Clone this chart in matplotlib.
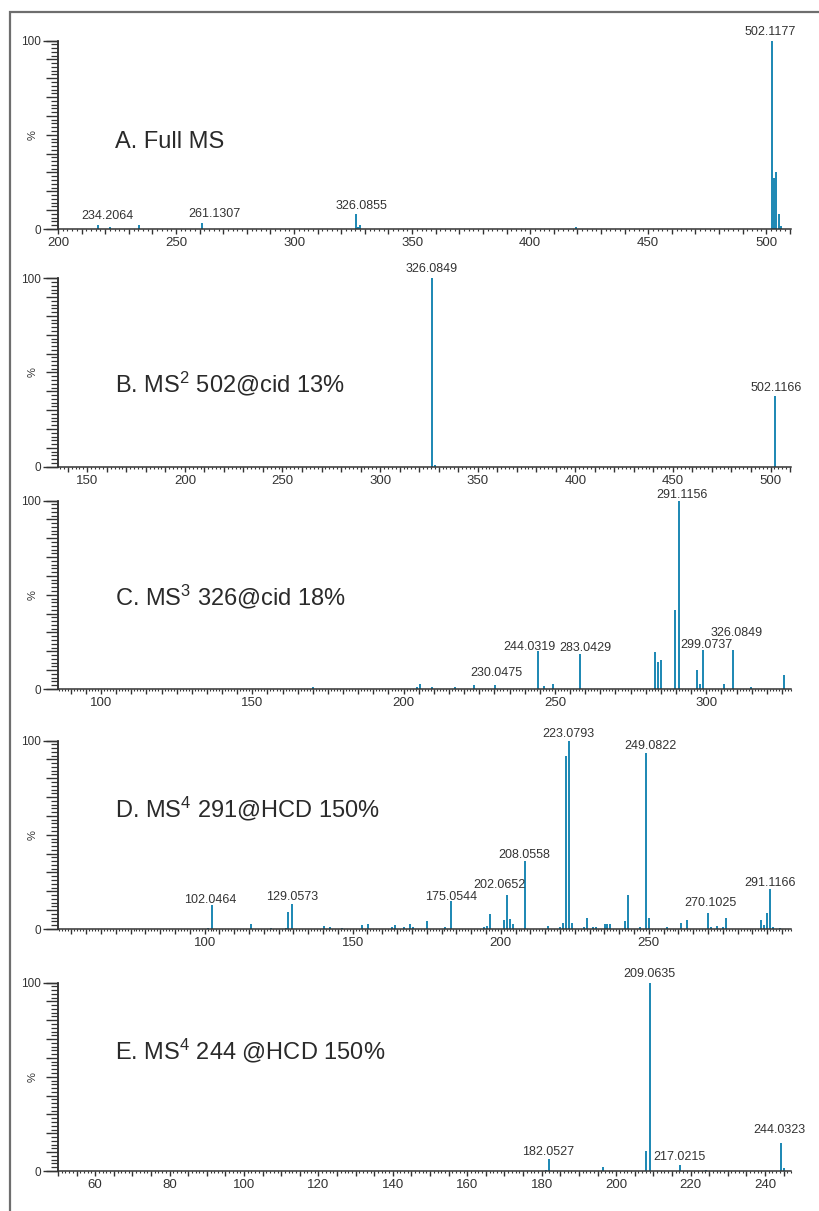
import matplotlib
matplotlib.use('Agg')
import matplotlib.pyplot as plt
from matplotlib.ticker import MultipleLocator, FuncFormatter, NullFormatter
from matplotlib.patches import Rectangle
from matplotlib.transforms import blended_transform_factory

plt.rcParams['font.family'] = ['Liberation Sans', 'DejaVu Sans']
plt.rcParams['mathtext.fontset'] = 'custom'
plt.rcParams['mathtext.rm'] = 'Liberation Sans'
plt.rcParams['mathtext.it'] = 'Liberation Sans:italic'
plt.rcParams['mathtext.bf'] = 'Liberation Sans:bold'

# ---------------- data ----------------
titles = ["A. Full MS",
          "B. MS$^2$ 502@cid 13%",
          "C. MS$^3$ 326@cid 18%",
          "D. MS$^4$ 291@HCD 150%",
          "E. MS$^4$ 244 @HCD 150%"]

mz_a = [217.1, 222.0, 234.2, 261.1, 326.1, 327.0, 328.0, 419.5, 502.4, 503.4, 504.2, 505.4, 506.2]
int_a = [2.1, 1.0, 2.3, 3.2, 7.8, 1.0, 2.1, 1.0, 100, 27, 30, 8, 1.6]
lab_a = ["234.2064", "261.1307", "326.0855", "502.1177"]
labx_a = [221.0, 266.1, 328.7, 501.7]
laby_a = [5.2, 6.2, 10.5, 103.0]

mz_b = [326.5, 328.0, 502.1]
int_b = [100, 1.0, 37.4]
lab_b = ["326.0849", "502.1166"]
labx_b = [326.5, 503.0]
laby_b = [103.2, 40.2]

mz_c = [170.0, 204.3, 205.4, 209.3, 217.1, 223.2, 230.3, 244.4, 246.5, 249.4, 258.3,
        282.9, 283.9, 285.0, 289.7, 291.0, 296.9, 298.0, 298.9, 305.8, 308.8, 314.7, 325.7]
int_c = [0.8, 1.0, 2.6, 1.0, 1.2, 2.1, 2.3, 20, 1.5, 2.6, 18.7,
         19.6, 14.5, 15.3, 42, 100, 10, 2.6, 20.8, 2.6, 20.8, 1.0, 7.4]
lab_c = ["230.0475", "244.0319", "283.0429", "291.1156", "299.0737", "326.0849"]
labx_c = [230.5, 241.7, 259.9, 292.1, 300.2, 310.0]
laby_c = [6.9, 20.6, 20.1, 101.2, 21.5, 28.2]

mz_d = [101.3, 102.5, 115.5, 122.5, 127.4, 128.3, 129.4, 140.2, 142.3, 146.3, 153.3, 155.3,
        163.3, 164.3, 167.3, 169.2, 170.3, 175.2, 181.3, 183.3, 194.3, 195.2, 196.2, 201.2,
        202.2, 203.2, 204.2, 208.2, 216.1, 220.1, 221.0, 222.1, 223.1, 224.1, 228.0, 229.1,
        231.1, 232.1, 235.1, 236.0, 236.9, 242.0, 243.0, 247.0, 249.1, 250.1, 256.0, 261.0,
        263.0, 270.0, 271.0, 272.9, 274.9, 275.9, 287.9, 288.9, 289.9, 290.9, 291.9, 294.4]
int_d = [0.5, 12.7, 2.6, 0.5, 0.5, 9, 13.2, 1.5, 1.2, 0.5, 2.3, 2.6,
         1.0, 2.0, 1.0, 2.6, 1.0, 4.2, 1.0, 14.8, 1.0, 1.8, 8.0, 5.0,
         18, 5.3, 2.6, 36, 1.6, 1.0, 3.0, 92, 100, 3.0, 1.0, 5.8,
         1.2, 1.0, 2.5, 2.5, 2.5, 4.2, 18, 1.0, 93.3, 5.6, 1.0, 3.0,
         5.0, 8.3, 1.0, 1.5, 1.0, 5.8, 4.8, 2.0, 8.5, 21, 1.0, 0.5]
lab_d = ["102.0464", "129.0573", "175.0544", "202.0652", "208.0558",
         "223.0793", "249.0822", "270.1025", "291.1166"]
labx_d = [101.8, 129.6, 183.2, 199.6, 207.9, 222.9, 250.4, 270.7, 290.9]
laby_d = [13.9, 15.3, 15.3, 21.5, 37.7, 101.8, 95.6, 12.3, 22.8]

mz_e = [181.1, 182.0, 196.5, 208.1, 209.2, 217.1, 224.2, 244.2, 245.2]
int_e = [0.5, 6.3, 2.1, 10.7, 100, 3.3, 0.5, 15, 1.6]
lab_e = ["182.0527", "209.0635", "217.0215", "244.0323"]
labx_e = [181.8, 209.0, 217.1, 244.0]
laby_e = [8.5, 103.0, 5.8, 20.2]

# ---------------- layout ----------------
W, H = 820, 1211
fig = plt.figure(figsize=(W / 100, H / 100), dpi=100)

PEAK = '#1b87b3'
TXT = '#333333'

panels = [
    dict(mz=mz_a, it=int_a, lab=lab_a, lx=labx_a, ly=laby_a, xlim=(200, 510.5),
         major=10, minor=2, labstep=50, base=229, title_y=46),
    dict(mz=mz_b, it=int_b, lab=lab_b, lx=labx_b, ly=laby_b, xlim=(135, 510.5),
         major=10, minor=2, labstep=50, base=466.7, title_y=44),
    dict(mz=mz_c, it=int_c, lab=lab_c, lx=labx_c, ly=laby_c, xlim=(85.8, 328),
         major=5, minor=1, labstep=50, base=689, title_y=49),
    dict(mz=mz_d, it=int_d, lab=lab_d, lx=labx_d, ly=laby_d, xlim=(50.5, 298),
         major=5, minor=1, labstep=50, base=929, title_y=64),
    dict(mz=mz_e, it=int_e, lab=lab_e, lx=labx_e, ly=laby_e, xlim=(50, 247),
         major=5, minor=1, labstep=20, base=1171, title_y=64),
]

left_px, right_px, h_px = 58, 791, 188.5

for p, title in zip(panels, titles):
    ax = fig.add_axes([left_px / W, 1 - p['base'] / H, (right_px - left_px) / W, h_px / H])
    ax.vlines(p['mz'], 0, p['it'], color=PEAK, lw=1.4)
    ax.set_xlim(*p['xlim'])
    ax.set_ylim(0, 100)
    for s in ['top', 'right']:
        ax.spines[s].set_visible(False)
    for s in ['left', 'bottom']:
        ax.spines[s].set_color(TXT)
        ax.spines[s].set_linewidth(1.1)

    # x ticks
    step = p['labstep']
    ax.xaxis.set_major_locator(MultipleLocator(p['major']))
    ax.xaxis.set_minor_locator(MultipleLocator(p['minor']))
    ax.xaxis.set_major_formatter(FuncFormatter(
        lambda v, pos, step=step: f"{int(round(v))}" if abs(v / step - round(v / step)) < 1e-6 else ""))
    ax.tick_params(axis='x', which='major', length=3.4, width=1.0, color=TXT,
                   labelsize=9.5, labelcolor=TXT, pad=2.5)
    ax.tick_params(axis='x', which='minor', length=1.6, width=0.8, color=TXT)

    # y ticks: every 10 and every 2 (no labels)
    ax.yaxis.set_major_locator(MultipleLocator(10))
    ax.yaxis.set_minor_locator(MultipleLocator(2))
    ax.yaxis.set_major_formatter(NullFormatter())
    ax.tick_params(axis='y', which='major', length=8.6, width=1.0, color=TXT)
    ax.tick_params(axis='y', which='minor', length=5.2, width=0.9, color=TXT)
    sec = ax.secondary_yaxis('left')
    sec.set_yticks([0, 100])
    sec.tick_params(axis='y', length=11, width=1.0, color=TXT, labelsize=8.5,
                    labelcolor=TXT, pad=1)
    sec.spines['left'].set_color(TXT)
    sec.spines['left'].set_linewidth(1.1)

    ax.text(-25 / (right_px - left_px), 0.5, '%', transform=ax.transAxes, rotation=90,
            ha='center', va='center', fontsize=8, color=TXT)

    ax.text((115 - left_px) / (right_px - left_px), p['title_y'], title,
            transform=blended_transform_factory(ax.transAxes, ax.transData),
            ha='left', va='center', fontsize=17, color='#2a2a2a')

    for s, x, y in zip(p['lab'], p['lx'], p['ly']):
        ax.text(x, y, s, ha='center', va='baseline', fontsize=9, color=TXT, clip_on=False)

# outer frame
fig.patches.append(Rectangle((10 / W, -0.05), 1.2, 1 - 12 / H + 0.05,
                             transform=fig.transFigure, fill=False,
                             ec='#6e6e6e', lw=1.6, zorder=-1))

fig.savefig('out.png', dpi=100)
